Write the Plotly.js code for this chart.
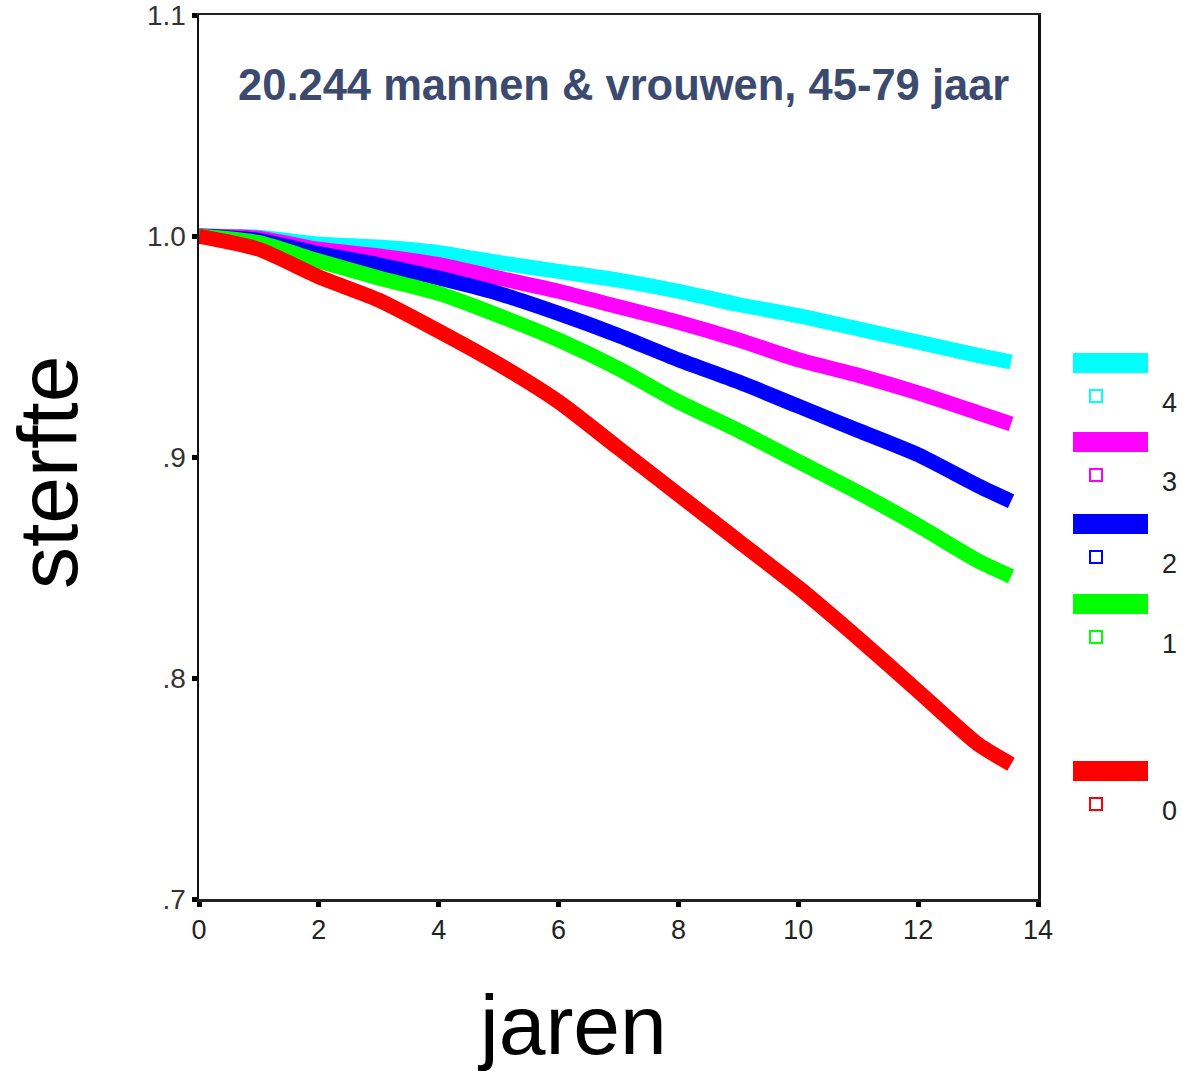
<!DOCTYPE html>
<html>
<head>
<meta charset="utf-8">
<script src="https://cdn.plot.ly/plotly-3.0.1.min.js"></script>
<style>html,body{margin:0;padding:0;background:#fff;}#chart{width:1182px;height:1071px;}</style>
</head>
<body>
<div id="chart"></div>
<script>
// Data
var years = [0, 1, 2, 3, 4, 5, 6, 7, 8, 9, 10, 11, 12, 13, 13.55];
var group0 = [1.000, 0.994, 0.9815, 0.971, 0.957, 0.942, 0.925, 0.904, 0.883, 0.862, 0.841, 0.818, 0.794, 0.770, 0.761];
var group1 = [1.000, 0.997, 0.9887, 0.981, 0.974, 0.964, 0.953, 0.940, 0.925, 0.912, 0.898, 0.884, 0.869, 0.853, 0.846];
var group2 = [1.000, 0.998, 0.992, 0.987, 0.981, 0.974, 0.965, 0.955, 0.944, 0.934, 0.923, 0.912, 0.901, 0.887, 0.880];
var group3 = [1.000, 0.999, 0.994, 0.991, 0.987, 0.981, 0.975, 0.968, 0.961, 0.953, 0.944, 0.937, 0.929, 0.920, 0.915];
var group4 = [1.000, 0.9995, 0.9964, 0.995, 0.9925, 0.988, 0.984, 0.980, 0.975, 0.969, 0.964, 0.958, 0.952, 0.946, 0.943];
var groupNames = ['4', '3', '2', '1', '0'];
var groupColors = ['#00ffff', '#ff00ff', '#0000ff', '#00ff00', '#ff0000'];
var groupValues = [group4, group3, group2, group1, group0];
var yTickVals = [0.7, 0.8, 0.9, 1.0, 1.1];
var yTickText = ['.7', '.8', '.9', '1.0', '1.1'];
var xTickVals = [0, 2, 4, 6, 8, 10, 12, 14];

var W = 1182, H = 1071;
var mL = 199, mR = 144, mT = 15, mB = 172;
var plotW = W - mL - mR, plotH = H - mT - mB;
function px(x) { return (x - mL) / plotW; }
function py(y) { return (H - mB - y) / plotH; }

var traces = groupValues.map(function (vals, i) {
  return {
    x: years, y: vals, type: 'scatter', mode: 'lines',
    name: groupNames[i],
    line: { color: groupColors[i], width: 15, shape: 'spline', smoothing: 0.6 },
    showlegend: false, hoverinfo: 'x+y'
  };
});

// custom legend (layout decoration)
var legendBarY = [363, 442, 524, 604, 771];
var shapes = [], annotations = [];
groupNames.forEach(function (n, i) {
  var by = legendBarY[i];
  shapes.push({ type: 'rect', xref: 'paper', yref: 'paper', x0: px(1073), x1: px(1148), y0: py(by + 10), y1: py(by - 10), fillcolor: groupColors[i], line: { width: 0 } });
  var sy = by + 33;
  shapes.push({ type: 'rect', xref: 'paper', yref: 'paper', x0: px(1090), x1: px(1102), y0: py(sy + 6), y1: py(sy - 6), fillcolor: 'rgba(0,0,0,0)', line: { color: groupColors[i], width: 2 } });
  annotations.push({ xref: 'paper', yref: 'paper', x: px(1169), y: py(sy + 7), text: n, showarrow: false, xanchor: 'center', yanchor: 'middle', font: { family: 'Liberation Sans, Arial, sans-serif', size: 27, color: '#222' } });
});
annotations.push({ xref: 'paper', yref: 'paper', x: px(623), y: py(85), text: '<b>20.244 mannen &amp; vrouwen, 45-79 jaar</b>', showarrow: false, xanchor: 'center', yanchor: 'middle', font: { family: 'Liberation Sans, Arial, sans-serif', size: 43.5, color: '#3b4a6e' } });
annotations.push({ xref: 'paper', yref: 'paper', x: px(572), y: py(1025), text: 'jaren', showarrow: false, xanchor: 'center', yanchor: 'middle', font: { family: 'Liberation Sans, Arial, sans-serif', size: 84, color: '#000' } });
annotations.push({ xref: 'paper', yref: 'paper', x: px(48), y: py(473), text: 'sterfte', textangle: -90, showarrow: false, xanchor: 'center', yanchor: 'middle', font: { family: 'Liberation Sans, Arial, sans-serif', size: 84, color: '#000' } });

var layout = {
  width: W, height: H,
  margin: { l: mL, r: mR, t: mT, b: mB, pad: 0 },
  paper_bgcolor: '#ffffff', plot_bgcolor: '#ffffff',
  showlegend: false,
  xaxis: {
    range: [0, 14], tickvals: xTickVals, ticktext: xTickVals.map(String),
    showgrid: false, zeroline: false, showline: true, mirror: true, linecolor: '#222', linewidth: 2.5,
    ticks: 'outside', ticklen: 5, tickwidth: 5, tickcolor: '#000', ticklabeloverflow: 'allow',
    tickfont: { family: 'Liberation Sans, Arial, sans-serif', size: 27, color: '#222' }
  },
  yaxis: {
    range: [0.7, 1.1], tickvals: yTickVals, ticktext: yTickText,
    showgrid: false, zeroline: false, showline: true, mirror: true, linecolor: '#111', linewidth: 2.5,
    ticks: 'outside', ticklen: 5, tickwidth: 5, tickcolor: '#000', ticklabeloverflow: 'allow',
    tickfont: { family: 'Liberation Sans, Arial, sans-serif', size: 28, color: '#333' }
  },
  shapes: shapes,
  annotations: annotations
};

Plotly.newPlot('chart', traces, layout, { displayModeBar: false, staticPlot: true });
</script>
</body>
</html>
